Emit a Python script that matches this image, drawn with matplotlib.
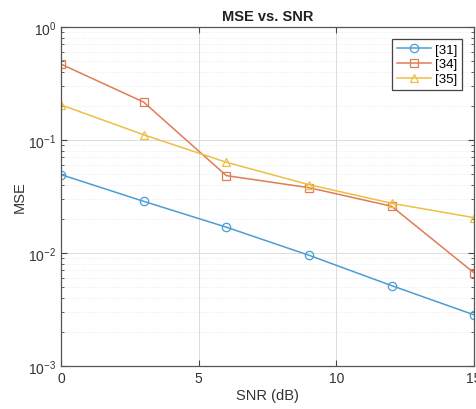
import matplotlib
matplotlib.use("Agg")
import matplotlib.pyplot as plt
from matplotlib.ticker import LogLocator, NullFormatter

# data
snr = [0, 3, 6, 9, 12, 15]
mse_31 = [0.0493, 0.0286, 0.0169, 0.00954, 0.00514, 0.00283]
mse_34 = [0.468, 0.216, 0.0483, 0.0378, 0.0259, 0.00665]
mse_35 = [0.204, 0.111, 0.0634, 0.0402, 0.0275, 0.0205]
labels = ["[31]", "[34]", "[35]"]

plt.rcParams['font.family'] = ['Liberation Sans', 'DejaVu Sans']

fig = plt.figure(figsize=(4.77, 4.10), dpi=100)
ax = fig.add_axes([0.128, 0.105, 0.866, 0.827])

ax.semilogy(snr, mse_31, '-o', color='#4a9ed4', lw=1.1, ms=6, mfc='none', mew=0.9, label=labels[0])
ax.semilogy(snr, mse_34, '-s', color='#e07c55', lw=1.1, ms=6, mfc='none', mew=0.9, label=labels[1])
ax.semilogy(snr, mse_35, '-^', color='#ecbf45', lw=1.1, ms=6, mfc='none', mew=0.9, label=labels[2])

ax.set_xlim(0, 15)
ax.set_ylim(1e-3, 1)
ax.set_xticks([0, 5, 10, 15])
ax.yaxis.set_major_locator(LogLocator(base=10, numticks=10))
ax.yaxis.set_minor_locator(LogLocator(base=10, subs=range(2, 10), numticks=10))
ax.yaxis.set_minor_formatter(NullFormatter())

ax.grid(True, which='major', color='#dcdcdc', lw=0.7)
ax.grid(True, which='minor', axis='y', color='#e6e6e6', lw=0.6, ls=':')
ax.tick_params(which='both', direction='in', top=True, right=True, colors='#444444', labelcolor='#333333', labelsize=10)
ax.tick_params(which='major', length=4)
ax.tick_params(which='minor', length=2)
for s in ax.spines.values():
    s.set_color('#555555')
    s.set_linewidth(0.9)

ax.set_title("MSE vs. SNR", fontsize=10.5, fontweight='bold', color='#222222', pad=5)
ax.set_xlabel("SNR (dB)", fontsize=10.5, color='#333333', labelpad=2)
ax.set_ylabel("MSE", fontsize=10.5, color='#333333', labelpad=1)

leg = ax.legend(loc='upper right', fontsize=9.5, fancybox=False, framealpha=1,
                edgecolor='#444444', handlelength=2.6, handletextpad=0.3,
                borderaxespad=0.9, labelspacing=0.2, borderpad=0.35)
leg.get_frame().set_linewidth(0.9)

fig.savefig("out.png", dpi=100)
